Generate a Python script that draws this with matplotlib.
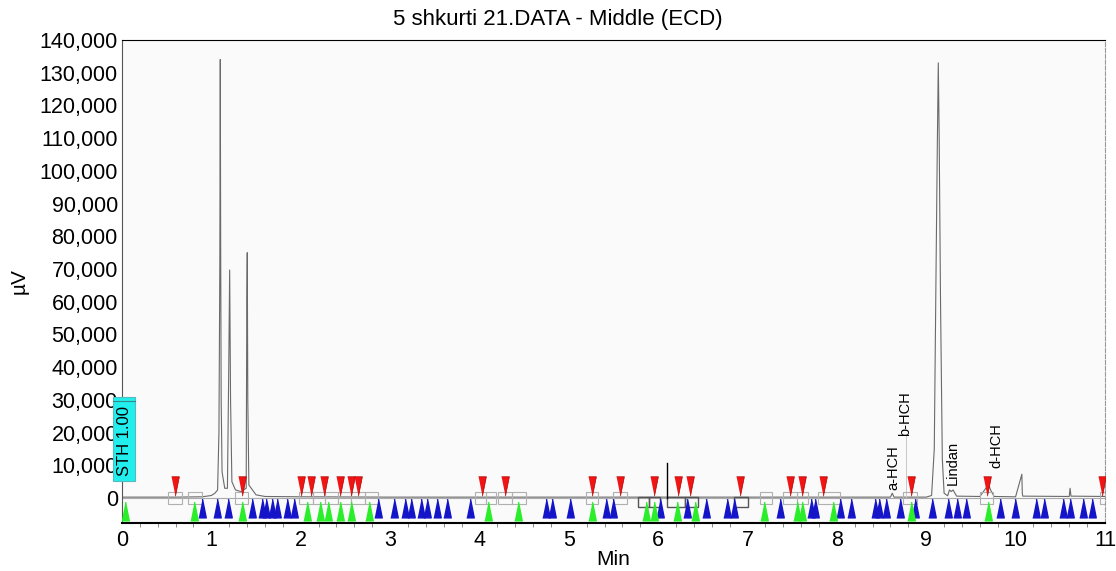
import matplotlib
matplotlib.use('Agg')
import matplotlib.pyplot as plt
from matplotlib.patches import Rectangle
from matplotlib.ticker import FuncFormatter, MultipleLocator

plt.rcParams['font.family'] = ['Liberation Sans', 'DejaVu Sans']

# detector trace (min, uV)
trace_t = [0.0, 0.12, 0.6, 0.9, 1.0, 1.04, 1.07, 1.085, 1.09, 1.095, 1.1, 1.105, 1.11, 1.12,
           1.15, 1.18, 1.195, 1.205, 1.215, 1.23, 1.27, 1.33, 1.39, 1.397, 1.402, 1.408, 1.42,
           1.5, 1.6, 2.0, 3.0, 4.0, 5.0, 6.0, 7.0, 8.0, 8.6, 8.62, 8.64, 9.0, 9.06, 9.09, 9.11,
           9.125, 9.135, 9.145, 9.16, 9.18, 9.2, 9.24, 9.26, 9.28, 9.3, 9.34, 9.6, 9.68, 9.7,
           9.72, 9.76, 10.0, 10.07, 10.075, 10.08, 10.6, 10.61, 10.62, 11.0]
trace_v = [300, 300, 300, 400, 800, 1500, 2500, 20000, 45000, 72000, 134000, 72000, 30000, 8000,
           3000, 3000, 40000, 69700, 30000, 5000, 2500, 2000, 3000, 60000, 75000, 30000, 4000,
           1000, 500, 400, 300, 300, 300, 300, 300, 300, 300, 1500, 300, 300, 800, 15000, 70000,
           110000, 133000, 110000, 60000, 12000, 1500, 700, 2500, 2000, 2500, 600, 500, 3500, 4000,
           2500, 500, 400, 7300, 1500, 600, 500, 3000, 600, 500]

# peak start / end markers
red_t = [0.59, 1.34, 2.00, 2.12, 2.26, 2.44, 2.56, 2.64, 4.03, 4.29, 5.26, 5.57, 5.95, 6.22,
         6.36, 6.92, 7.48, 7.61, 7.85, 8.83, 9.68, 10.97]
green_t = [0.03, 0.81, 1.34, 2.07, 2.22, 2.30, 2.44, 2.56, 2.76, 4.10, 4.43, 5.26, 5.86, 5.95,
           6.21, 6.41, 7.18, 7.55, 7.61, 7.96, 8.83, 9.69]
blue_t = [0.90, 1.06, 1.19, 1.46, 1.57, 1.61, 1.68, 1.74, 1.85, 1.93, 2.86, 3.04, 3.17, 3.23,
          3.35, 3.41, 3.53, 3.64, 3.89, 4.74, 4.81, 5.01, 5.42, 5.49, 6.02, 6.32, 6.54, 6.77,
          6.85, 7.36, 7.71, 7.76, 8.04, 8.16, 8.43, 8.47, 8.55, 8.71, 8.87, 9.07, 9.24, 9.34,
          9.45, 9.82, 9.99, 10.23, 10.32, 10.53, 10.61, 10.75, 10.86]

# integration boxes (start, end)
light_boxes = [(0.52, 0.67), (0.74, 0.90), (1.26, 1.41), (1.98, 2.14), (2.14, 2.27), (2.27, 2.42),
               (2.42, 2.56), (2.56, 2.72), (2.72, 2.86), (3.95, 4.07), (4.07, 4.19), (4.21, 4.36),
               (4.36, 4.52), (5.19, 5.33), (5.50, 5.65), (7.14, 7.27), (7.40, 7.55), (7.55, 7.68),
               (7.79, 8.03), (8.74, 8.90), (9.60, 9.75), (10.95, 11.02)]
dark_boxes = [(5.78, 5.90), (5.90, 6.02), (6.10, 6.30), (6.30, 6.45), (6.85, 7.00)]

labels = ['a-HCH', 'b-HCH', 'Lindan', 'd-HCH']
label_t = [8.63, 8.76, 9.30, 9.78]
label_v = [2400, 19000, 4000, 9200]

fig = plt.figure(figsize=(11.16, 5.71), dpi=100)
ax = fig.add_axes([0.1093, 0.0841, 0.8808, 0.8459])
ax.set_facecolor('#fafafa')

ax.axhline(0, color='#aaaaaa', lw=0.8, zorder=1)
ax.plot(trace_t, trace_v, color='#6a6a6a', lw=0.8, zorder=2)

for s, e in light_boxes:
    ax.add_patch(Rectangle((s, -1900), e - s, 3800, fill=False, ec='#b0b0b0', lw=0.8, zorder=3))
for s, e in dark_boxes:
    ax.add_patch(Rectangle((s, -2850), e - s, 3250, fill=False, ec='#555555', lw=1.0, zorder=3))

ax.plot([6.10, 6.10], [0, 10800], color='black', lw=1.0, zorder=3)
ax.plot([8.77, 8.77], [300, 19000], color='#c8c8c8', lw=0.7, zorder=2)

up = [(-0.4, -1), (0.4, -1), (0, 1)]
down = [(-0.4, 1), (0.4, 1), (0, -1)]
ax.plot(blue_t, [-2900] * len(blue_t), ls='none', marker=up, ms=13.5, color='#1414c8', mec='#1414c8', zorder=4)
ax.plot(green_t, [-4000] * len(green_t), ls='none', marker=up, ms=13.5, color='#2aee2a', mec='#2aee2a', zorder=5)
ax.plot(red_t, [3600] * len(red_t), ls='none', marker=down, ms=14, color='#f01414', mec='#b00000', mew=0.5, zorder=5)

for name, t, v in zip(labels, label_t, label_v):
    ax.text(t, v, name, rotation=90, ha='center', va='bottom', fontsize=10.5, zorder=6)

# STH box
ax.add_patch(Rectangle((-0.1, 5200), 0.246, 25700, fc='#22eeee', ec='#55bbbb', lw=0.8,
                       clip_on=False, zorder=7))
ax.plot([-0.1, 0.146], [29600, 29600], color='#338888', lw=0.8, clip_on=False, zorder=8)
ax.text(0.023, 17500, 'STH 1.00', rotation=90, ha='center', va='center', fontsize=12, zorder=9)

ax.set_xlim(0, 11)
ax.set_ylim(-7600, 140000)
ax.xaxis.set_major_locator(MultipleLocator(1))
ax.xaxis.set_minor_locator(MultipleLocator(0.2))
ax.yaxis.set_major_locator(MultipleLocator(10000))
ax.yaxis.set_major_formatter(FuncFormatter(lambda v, p: f'{int(v):,}'))
ax.tick_params(axis='both', labelsize=15.5)
ax.tick_params(axis='y', length=0, pad=3)
ax.tick_params(axis='x', which='major', length=0, pad=5)
ax.tick_params(axis='x', which='minor', length=3, color='#777777')

ax.spines['top'].set_color('black')
ax.spines['bottom'].set_color('black')
ax.spines['bottom'].set_linewidth(1.5)
ax.spines['left'].set_color('#555555')
ax.spines['right'].set_color('#999999')
ax.spines['right'].set_linestyle('--')

ax.set_xlabel('Min', fontsize=15, labelpad=-1)
ax.set_ylabel('µV', fontsize=15, labelpad=8)
fig.suptitle('5 shkurti 21.DATA - Middle (ECD)', fontsize=16, x=0.5, y=0.985)

fig.savefig('out.png', dpi=100)
